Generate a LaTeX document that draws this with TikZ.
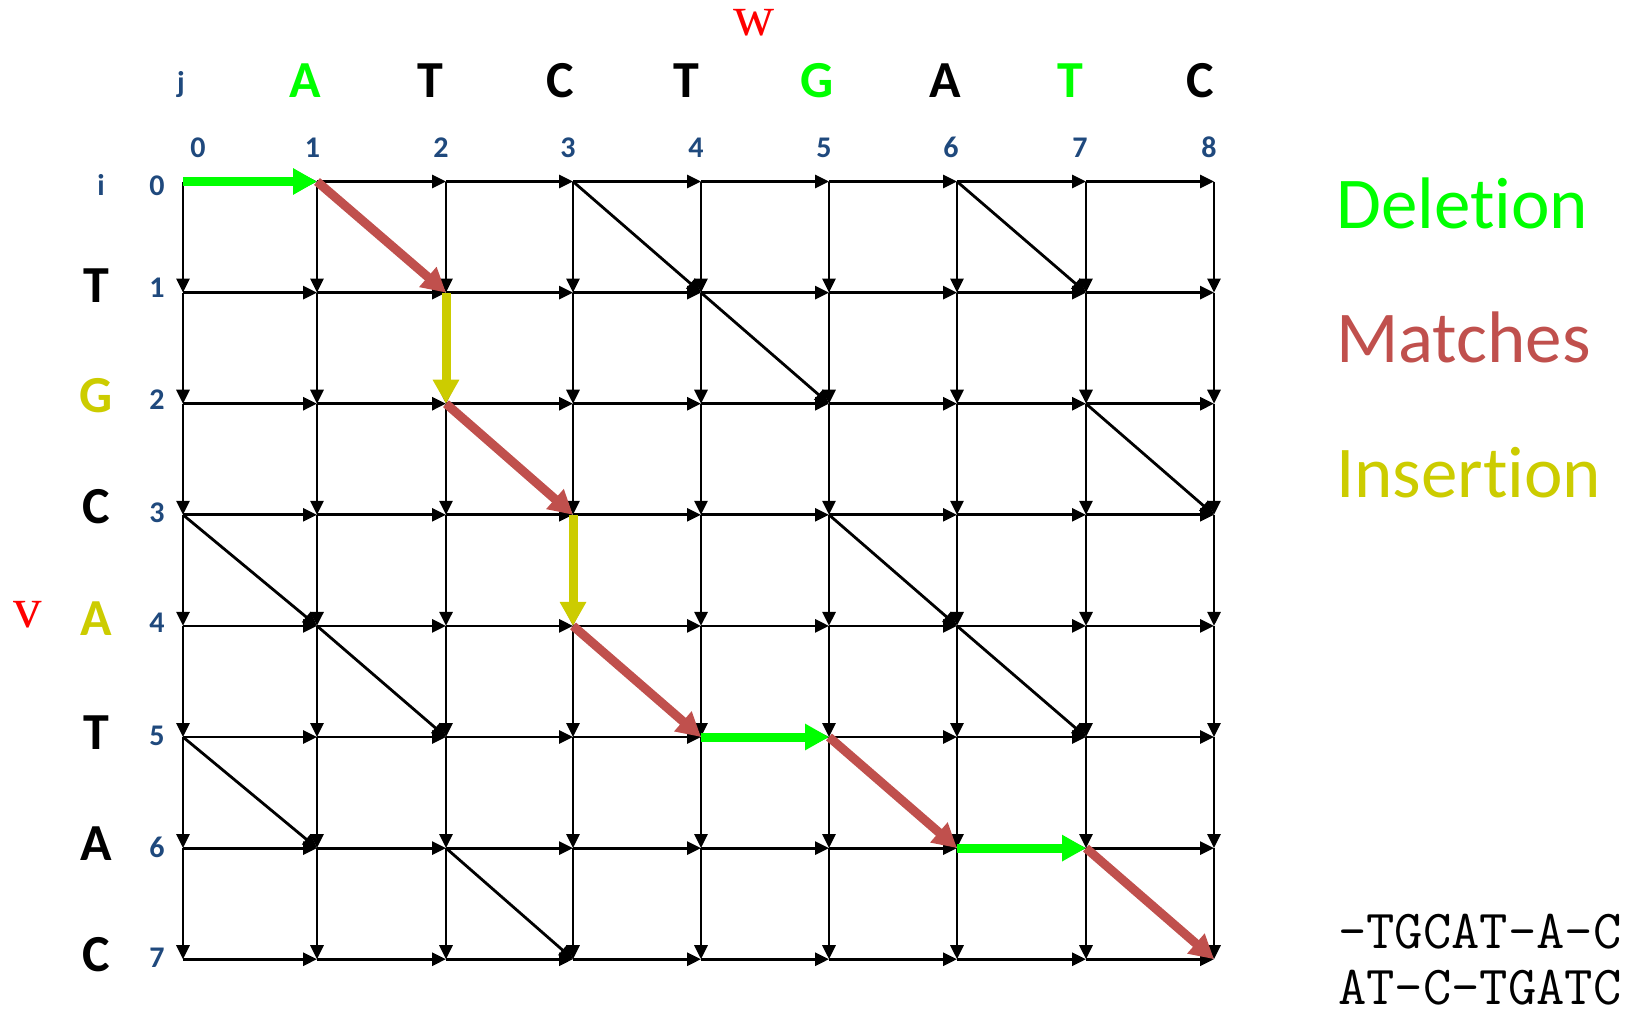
\documentclass[tikz,border=0pt]{standalone}
\usepackage{fontspec}
\setmainfont{Carlito}[Ligatures={NoCommon,NoContextual},Contextuals=NoAlternate]
\newfontfamily\serifw{Liberation Serif}
\usetikzlibrary{arrows.meta}
\definecolor{delgreen}{RGB}{0,255,0}
\definecolor{matchred}{RGB}{192,80,77}
\definecolor{insyellow}{RGB}{204,204,0}
\definecolor{idxblue}{RGB}{31,73,125}
\tikzset{
  node-s/.style={anchor=base,inner sep=0pt,font=\fontsize{52bp}{52bp}\selectfont\bfseries},
  node-n/.style={anchor=base,inner sep=0pt,text=idxblue,font=\fontsize{30bp}{30bp}\selectfont\bfseries},
  node-l/.style={anchor=base west,inner sep=0pt,font=\fontsize{73bp}{73bp}\selectfont},
  node-m/.style={anchor=base west,inner sep=0pt,text depth=0pt,font=\fontsize{55bp}{55bp}\selectfont\ttfamily},
  node-v/.style={anchor=base,inner sep=0pt,text height=26bp,text=red,font=\fontsize{57bp}{57bp}\selectfont\serifw},
  edge-g/.style={-{Triangle[length=14bp,width=13bp]},line width=2.8bp,black},
  edge-c/.style={-{Triangle[length=24bp,width=25bp]},line width=9bp},
}

\begin{document}
\begin{tikzpicture}[x=1bp,y=-1bp]
  \useasboundingbox (0,0) rectangle (1634,1009);

  % grid points (i = row, j = column)
  \foreach \i/\y in {0/181.5,1/292.6,2/403.7,3/514.8,4/625.9,5/737,6/848.1,7/959.2}
    \foreach \j/\x in {0/183,1/317,2/446,3/573,4/701,5/829,6/957,7/1086,8/1214}
      \coordinate (n-\i-\j) at (\x,\y);

  % horizontal and vertical edges
  \foreach \i in {0,...,7}
    \foreach \j in {0,...,7}{
      \pgfmathtruncatemacro\k{\j+1}
      \draw[edge-g] (n-\i-\j) -- (n-\i-\k);
    }
  \foreach \i in {0,...,6}
    \foreach \j in {0,...,8}{
      \pgfmathtruncatemacro\k{\i+1}
      \draw[edge-g] (n-\i-\j) -- (n-\k-\j);
    }

  % diagonal edges where letters agree
  \foreach \i/\j in {0/3,1/4,0/6,2/7,3/0,4/1,3/5,4/6,5/0,6/2}{
    \pgfmathtruncatemacro\k{\i+1}
    \pgfmathtruncatemacro\l{\j+1}
    \draw[edge-g] (n-\i-\j) -- (n-\k-\l);
  }

  % alignment path
  \draw[edge-c,delgreen] (n-0-0) -- (n-0-1);
  \draw[edge-c,delgreen] (n-5-4) -- (n-5-5);
  \draw[edge-c,delgreen] (n-6-6) -- (n-6-7);
  \draw[edge-c,insyellow] (n-1-2) -- (n-2-2);
  \draw[edge-c,insyellow] (n-3-3) -- (n-4-3);
  \draw[edge-c,matchred] (n-0-1) -- (n-1-2);
  \draw[edge-c,matchred] (n-2-2) -- (n-3-3);
  \draw[edge-c,matchred] (n-4-3) -- (n-5-4);
  \draw[edge-c,matchred] (n-5-5) -- (n-6-6);
  \draw[edge-c,matchred] (n-6-7) -- (n-7-8);

  % sequence w on top, v on the left
  \foreach \x/\c/\t [count=\n] in {305/delgreen/A,430/black/T,560/black/C,686/black/T,817/delgreen/G,945/black/A,1070/delgreen/T,1200/black/C}
    \node[node-s,text=\c] (top-\n) at (\x,97) {\t};
  \foreach \y/\c/\t [count=\n] in {302/black/T,412/insyellow/G,523/black/C,635/insyellow/A,749/black/T,860/black/A,971/black/C}
    \node[node-s,text=\c] (left-\n) at (96,\y) {\t};

  % indices
  \foreach \x [count=\n from 0] in {198,312.5,441,568,696,824,951,1080,1209}
    \node[node-n] (col-\n) at (\x,157) {\n};
  \foreach \y [count=\n from 0] in {195,297,409,522,632,745,857,967}
    \node[node-n] (row-\n) at (157,\y) {\n};
  \node[node-n] (lab-j) at (181,92) {j};
  \node[node-n] (lab-i) at (101,195) {i};

  \node[node-v] (lab-w) at (754,35) {w};
  \node[node-v] (lab-v) at (28,627) {v};

  % legend
  \node[node-l,text=delgreen] (leg-del) at (1336,228) {Deletion};
  \node[node-l,text=matchred] (leg-match) at (1336,362) {Matches};
  \node[node-l,text=insyellow] (leg-ins) at (1336,497) {Insertion};

  % resulting alignment
  \node[node-m] (aln-v) at (1338,948) {-TGCAT-A-C};
  \node[node-m] (aln-w) at (1338,1004) {AT-C-TGATC};

\end{tikzpicture}
\end{document}
